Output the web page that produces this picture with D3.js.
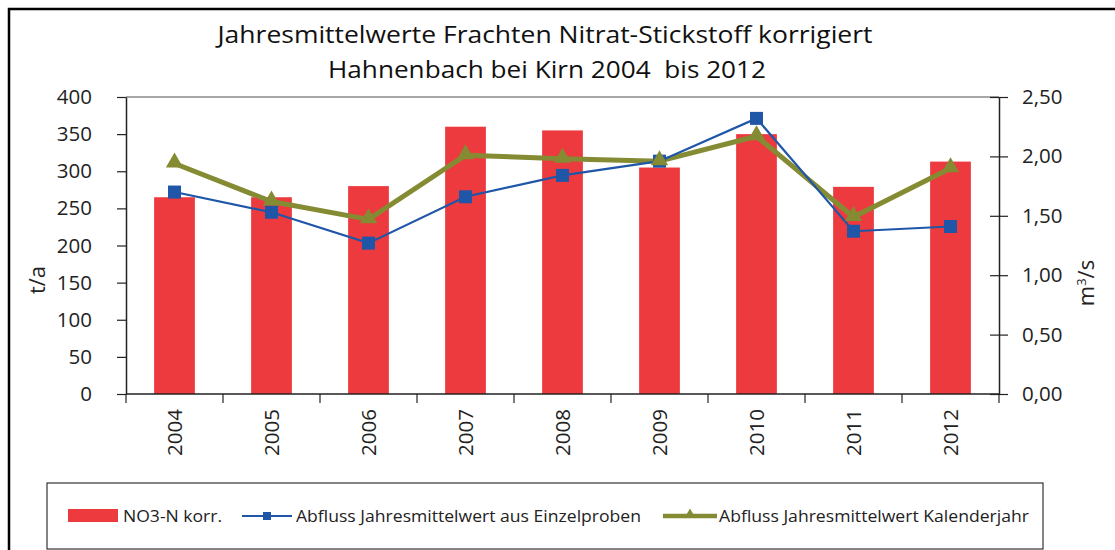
<!DOCTYPE html>
<html>
<head>
<meta charset="utf-8">
<script src="https://cdn.jsdelivr.net/npm/d3@7"></script>
<style>
  body { margin: 0; background: #fff; }
  svg { display: block; font-family: "Open Sans", "Liberation Sans", sans-serif; }
  .title { white-space: pre; }
</style>
</head>
<body>
<div id="chart"></div>
<script>
// Jahresmittelwerte Frachten Nitrat-Stickstoff, Hahnenbach bei Kirn

const years = ["2004", "2005", "2006", "2007", "2008", "2009", "2010", "2011", "2012"];
const nitratLoad = [265, 265, 280, 360, 355, 305, 350, 279, 313];           // t/a
const flowSamples = [1.70, 1.53, 1.27, 1.66, 1.84, 1.96, 2.32, 1.37, 1.41];   // m³/s
const flowCalendar = [1.94, 1.62, 1.47, 2.01, 1.98, 1.96, 2.17, 1.49, 1.90];  // m³/s

const leftTicks = [0, 50, 100, 150, 200, 250, 300, 350, 400];
const rightTicks = [0, 0.5, 1.0, 1.5, 2.0, 2.5];

const titleLines = [
    "Jahresmittelwerte Frachten Nitrat-Stickstoff korrigiert",
    "Hahnenbach bei Kirn 2004  bis 2012"
];
const legendLabels = [
    "NO3-N korr.",
    "Abfluss Jahresmittelwert aus Einzelproben",
    "Abfluss Jahresmittelwert Kalenderjahr"
];

const width = 1115, height = 550;
const plot = { left: 126, right: 999, top: 97, bottom: 394 };

const colRed = "#ED3A3E", colBlue = "#1F56A8", colGreen = "#848B33";

const svg = d3.select("#chart").append("svg")
    .attr("width", width)
    .attr("height", height);

// outer chart frame
svg.append("rect")
    .attr("x", 9).attr("y", 9)
    .attr("width", width + 20).attr("height", height + 20)
    .attr("fill", "none")
    .attr("stroke", "#000")
    .attr("stroke-width", 2.5);

// title
const titleLayout = [{ y: 43, len: 655, cx: 545 }, { y: 78, len: 438, cx: 547 }];
svg.selectAll(".title")
    .data(titleLines)
    .join("text")
    .attr("class", "title")
    .attr("x", (d, i) => titleLayout[i].cx)
    .attr("y", (d, i) => titleLayout[i].y)
    .attr("text-anchor", "middle")
    .attr("font-size", 24)
    .attr("fill", "#111")
    .attr("textLength", (d, i) => titleLayout[i].len)
    .attr("lengthAdjust", "spacingAndGlyphs")
    .text(d => d);

// scales
const x = d3.scaleBand().domain(years).range([plot.left, plot.right]);
const yLeft = d3.scaleLinear().domain([0, 400]).range([plot.bottom, plot.top]);
const yRight = d3.scaleLinear().domain([0, 2.5]).range([plot.bottom, plot.top]);
const barW = x.bandwidth() * 0.42;
const cx = d => x(d) + x.bandwidth() / 2;

// plot area top border (grey)
svg.append("line")
    .attr("x1", plot.left).attr("x2", plot.right)
    .attr("y1", plot.top).attr("y2", plot.top)
    .attr("stroke", "#8a8a8a")
    .attr("stroke-width", 1.5);

// bars
svg.append("g")
    .selectAll("rect")
    .data(years)
    .join("rect")
    .attr("x", d => cx(d) - barW / 2)
    .attr("width", barW)
    .attr("y", (d, i) => yLeft(nitratLoad[i]))
    .attr("height", (d, i) => plot.bottom - yLeft(nitratLoad[i]))
    .attr("fill", colRed);

// left axis
const axL = svg.append("g")
    .attr("transform", `translate(${plot.left},0)`)
    .call(d3.axisLeft(yLeft).tickValues(leftTicks).tickSize(9).tickSizeOuter(0).tickPadding(25));
axL.select(".domain").attr("stroke", "#222").attr("stroke-width", 1.5);
axL.selectAll(".tick line").attr("stroke", "#222").attr("stroke-width", 1.2);
axL.selectAll(".tick text")
    .attr("font-size", 20.5)
    .attr("fill", "#222")
    .attr("font-family", "Open Sans, sans-serif");

// right axis (ticks cross the axis)
const fmt = d => d3.format(".2f")(d).replace(".", ",");
const axR = svg.append("g")
    .attr("transform", `translate(${plot.right},0)`)
    .call(d3.axisRight(yRight).tickValues(rightTicks).tickSize(9).tickSizeOuter(0).tickPadding(14).tickFormat(fmt));
axR.select(".domain").attr("stroke", "#222").attr("stroke-width", 1.5);
axR.selectAll(".tick line").attr("x1", -9).attr("stroke", "#222").attr("stroke-width", 1.2);
axR.selectAll(".tick text")
    .attr("font-size", 20.5)
    .attr("fill", "#222")
    .attr("font-family", "Open Sans, sans-serif");

// bottom axis: line, boundary ticks, rotated year labels
const bottom = svg.append("g");
bottom.append("line")
    .attr("x1", plot.left).attr("x2", plot.right)
    .attr("y1", plot.bottom).attr("y2", plot.bottom)
    .attr("stroke", "#222").attr("stroke-width", 1.5);
const bounds = years.map(d => x(d)).concat([plot.right]);
bottom.selectAll(".xtick")
    .data(bounds)
    .join("line")
    .attr("x1", d => d).attr("x2", d => d)
    .attr("y1", plot.bottom).attr("y2", plot.bottom + 9)
    .attr("stroke", "#222").attr("stroke-width", 1.2);
bottom.selectAll(".xlabel")
    .data(years)
    .join("text")
    .attr("transform", d => `translate(${cx(d) + 7},${plot.bottom + 15}) rotate(-90)`)
    .attr("text-anchor", "end")
    .attr("font-size", 20.5)
    .attr("fill", "#222")
    .text(d => d);

// axis titles
svg.append("text")
    .attr("transform", "translate(45,280) rotate(-90)")
    .attr("text-anchor", "middle")
    .attr("font-size", 22)
    .attr("fill", "#222")
    .text("t/a");
const mLabel = svg.append("text")
    .attr("transform", "translate(1094,283) rotate(-90)")
    .attr("text-anchor", "middle")
    .attr("font-size", 22)
    .attr("fill", "#222");
mLabel.append("tspan").text("m");
mLabel.append("tspan").attr("font-size", 13).attr("dy", -8).text("3");
mLabel.append("tspan").attr("dy", 8).text("/s");

// lines
const triangle = d3.symbol().type(d3.symbolTriangle).size(130);

const lineGreen = d3.line().x((d, i) => cx(years[i])).y(d => yRight(d));
svg.append("path")
    .datum(flowCalendar)
    .attr("d", lineGreen)
    .attr("fill", "none")
    .attr("stroke", colGreen)
    .attr("stroke-width", 5)
    .attr("stroke-linejoin", "round");

const lineBlue = d3.line().x((d, i) => cx(years[i])).y(d => yRight(d));
svg.append("path")
    .datum(flowSamples)
    .attr("d", lineBlue)
    .attr("fill", "none")
    .attr("stroke", colBlue)
    .attr("stroke-width", 2.2);

svg.append("g")
    .selectAll("rect")
    .data(flowSamples)
    .join("rect")
    .attr("x", (d, i) => cx(years[i]) - 6.5)
    .attr("y", d => yRight(d) - 6.5)
    .attr("width", 13).attr("height", 13)
    .attr("fill", colBlue);

svg.append("g")
    .selectAll("path")
    .data(flowCalendar)
    .join("path")
    .attr("d", triangle)
    .attr("transform", (d, i) => `translate(${cx(years[i])},${yRight(d) - 1})`)
    .attr("fill", colGreen);

// legend
const lg = svg.append("g");
lg.append("rect")
    .attr("x", 47).attr("y", 483)
    .attr("width", 996).attr("height", 66)
    .attr("fill", "#fff")
    .attr("stroke", "#333")
    .attr("stroke-width", 1.2);

const legendItems = [
    { key: "bar", sx: 68, tx: 123, len: 99 },
    { key: "blue", sx: 242, tx: 296, len: 345 },
    { key: "green", sx: 663, tx: 719, len: 310 }
];
legendItems.forEach((it, i) => {
    if (it.key === "bar") {
        lg.append("rect")
            .attr("x", it.sx).attr("y", 509)
            .attr("width", 50).attr("height", 13)
            .attr("fill", colRed);
    } else if (it.key === "blue") {
        lg.append("line")
            .attr("x1", it.sx).attr("x2", it.sx + 50)
            .attr("y1", 516).attr("y2", 516)
            .attr("stroke", colBlue).attr("stroke-width", 2.2);
        lg.append("rect")
            .attr("x", it.sx + 21).attr("y", 512)
            .attr("width", 8).attr("height", 8)
            .attr("fill", colBlue);
    } else {
        lg.append("line")
            .attr("x1", it.sx).attr("x2", it.sx + 54)
            .attr("y1", 516).attr("y2", 516)
            .attr("stroke", colGreen).attr("stroke-width", 4.5);
        lg.append("path")
            .attr("d", d3.symbol().type(d3.symbolTriangle).size(40))
            .attr("transform", `translate(${it.sx + 27},514)`)
            .attr("fill", colGreen);
    }
    lg.append("text")
        .attr("x", it.tx).attr("y", 522)
        .attr("font-size", 17)
        .attr("fill", "#222")
        .attr("textLength", it.len)
        .attr("lengthAdjust", "spacingAndGlyphs")
        .text(legendLabels[i]);
});
</script>
</body>
</html>
